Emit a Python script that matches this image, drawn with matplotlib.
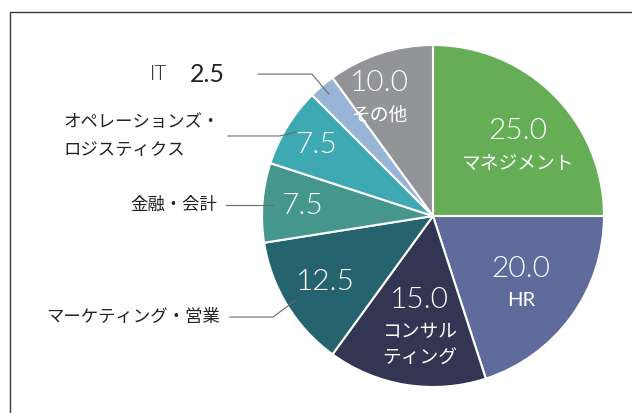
import numpy as np
import matplotlib
matplotlib.use("Agg")
import matplotlib.pyplot as plt
from matplotlib.patches import Rectangle

plt.rcParams['font.family'] = ['Noto Sans CJK JP', 'DejaVu Sans']

# data (clockwise from 12 o'clock)
labels = ["マネジメント", "HR", "コンサル\nティング", "マーケティング・営業",
          "金融・会計", "オペレーションズ・\nロジスティクス", "IT", "その他"]
values = [25.0, 20.0, 15.0, 12.5, 7.5, 7.5, 2.5, 10.0]
colors = ["#65ae55", "#5f6b9b", "#333652", "#25636f",
          "#45978d", "#3ea9b2", "#98b5d8", "#939498"]

# which slices get their name inside the pie
inside = [True, True, True, False, False, False, False, True]
# radial position of the value text and small angle tweak (deg)
lab_r = [0.70, 0.60, 0.50, 0.74, 0.77, 0.80, 0.0, 0.84]
lab_dt = [0, 5, 0, 0, 0, 0, 0, 4]

# callouts for outside labels: text right x, text y, line start x, elbow x
callouts = {
    3: (-1.245, -0.591, -1.187, -0.936),
    4: (-1.263, 0.064, -1.211, None),
    5: (-1.245, 0.468, -1.199, -0.895),
    6: (-1.216, 0.830, -1.023, -0.708),
}

num_font = ['Lato', 'Noto Sans CJK JP']
num_wt = 350  # picks Lato Light

fig = plt.figure(figsize=(6.32, 4.13), dpi=100)
ax = fig.add_axes([0, 0, 1, 1])

# frame
fig.patches.append(Rectangle((10 / 632, -0.05), 1.1, 1 - 12 / 413 + 0.05,
                             transform=fig.transFigure, fill=False,
                             edgecolor="#3a3a3a", linewidth=1.0))

wedges, _ = ax.pie(values, colors=colors, startangle=90, counterclock=False,
                   radius=1.0, center=(0, 0), frame=True,
                   wedgeprops=dict(edgecolor="white", linewidth=1.5))
ax.set_xlim(-433 / 171, (632 - 433) / 171)
ax.set_ylim(-197 / 171, 216 / 171)
ax.set_aspect('auto')
ax.axis('off')

px = 1 / 171
for i, w in enumerate(wedges):
    mid = np.deg2rad((w.theta1 + w.theta2) / 2)
    if i in callouts:
        tx, ty, lx, ex = callouts[i]
        tip = 0.94 * np.array([np.cos(mid), np.sin(mid)])
        if ex is None:
            xs, ys = [lx, tip[0]], [ty, ty]
        else:
            xs, ys = [lx, ex, tip[0]], [ty, ty, tip[1]]
        ax.plot(xs, ys, color="#6b6b6b", lw=0.8)
        if i == 6:
            ax.text(tx, ty, "%.1f" % values[i], ha='right', va='center',
                    fontsize=18, family=num_font, fontweight='normal',
                    color="#222222")
            ax.text(-1.556, ty, labels[i], ha='right', va='center',
                    fontsize=15, family=num_font, fontweight=num_wt,
                    color="#222222")
            continue
        ax.text(tx, ty, labels[i], ha='right', va='center', ma='left',
                fontsize=12.5, color="#222222", linespacing=1.7)
    a = mid + np.deg2rad(lab_dt[i])
    vx, vy = lab_r[i] * np.cos(a), lab_r[i] * np.sin(a)
    ax.text(vx, vy, "%.1f" % values[i], ha='center', va='center',
            fontsize=21.5, family=num_font, fontweight=num_wt, color="white")
    if inside[i]:
        n = labels[i].count("\n")
        fam = num_font if labels[i].isascii() else None
        ax.text(vx, vy - (32 + 12.5 * n) * px, labels[i], ha='center',
                va='center', fontsize=14.5 if fam else 13.5, family=fam,
                color="white", linespacing=1.4)

fig.savefig("out.png", dpi=100)
